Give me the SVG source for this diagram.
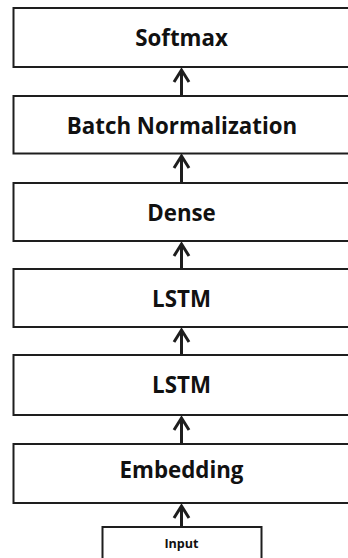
<svg xmlns="http://www.w3.org/2000/svg" width="348" height="558" viewBox="0 0 348 558">
  <style>
    .layer { fill: #ffffff; stroke: #1e1e1e; stroke-width: 2; }
    .label { font-family: "Open Sans", "Noto Sans", "DejaVu Sans", sans-serif; font-weight: 700; font-size: 22.3px; fill: #111111; text-anchor: middle; }
    .small { font-size: 12.6px; }
    .link { stroke: #1e1e1e; stroke-width: 3; fill: none; marker-end: url(#head); }
  </style>
  <defs>
    <marker id="head" markerUnits="userSpaceOnUse" viewBox="-16 -10 20 20" markerWidth="20" markerHeight="20" refX="0" refY="0" orient="auto">
      <path d="M-12,-7.5 L0,0 L-12,7.5" fill="none" stroke="#1e1e1e" stroke-width="3" stroke-linejoin="miter"/>
    </marker>
  </defs>
  <rect width="348" height="558" fill="#ffffff"/>

  <g id="connectors">
    <line class="link" x1="181.5" y1="96" x2="181.5" y2="70"/>
    <line class="link" x1="181.5" y1="183" x2="181.5" y2="156"/>
    <line class="link" x1="181.5" y1="269" x2="181.5" y2="244"/>
    <line class="link" x1="181.5" y1="355" x2="181.5" y2="330"/>
    <line class="link" x1="181.5" y1="444" x2="181.5" y2="418"/>
    <line class="link" x1="181.5" y1="527" x2="181.5" y2="506"/>
  </g>

  <g id="softmax">
    <rect class="layer" x="13.5" y="8" width="338" height="59"/>
    <text class="label" x="181.5" y="46">Softmax</text>
  </g>
  <g id="batch-normalization">
    <rect class="layer" x="13.5" y="96" width="338" height="57.5"/>
    <text class="label" x="182" y="134">Batch Normalization</text>
  </g>
  <g id="dense">
    <rect class="layer" x="13.5" y="183" width="338" height="58"/>
    <text class="label" x="181.5" y="220.5">Dense</text>
  </g>
  <g id="lstm-2">
    <rect class="layer" x="13.5" y="269" width="338" height="58"/>
    <text class="label" x="181.5" y="306.5">LSTM</text>
  </g>
  <g id="lstm-1">
    <rect class="layer" x="13.5" y="355" width="338" height="60"/>
    <text class="label" x="181.5" y="393">LSTM</text>
  </g>
  <g id="embedding">
    <rect class="layer" x="13.5" y="444" width="338" height="59"/>
    <text class="label" x="181.5" y="478">Embedding</text>
  </g>
  <g id="input">
    <rect class="layer" x="102.5" y="527" width="159" height="40" stroke-width="1.3"/>
    <text class="label small" x="181.5" y="548">Input</text>
  </g>
</svg>
